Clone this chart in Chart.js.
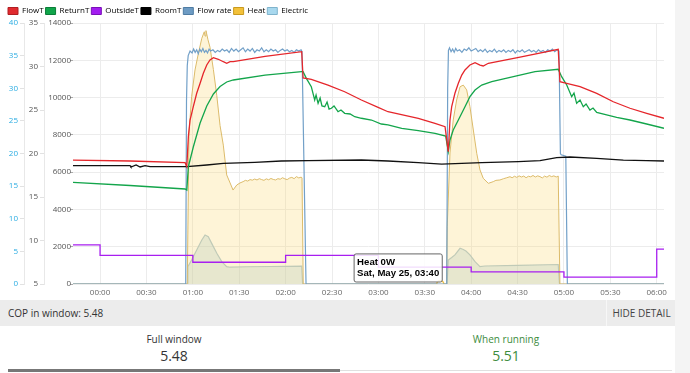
<!DOCTYPE html>
<html>
<head>
<meta charset="utf-8">
<title>Heat pump window</title>
<script src="https://cdn.jsdelivr.net/npm/chart.js@4.4.1/dist/chart.umd.min.js"></script>
<style>
    body { margin: 0; width: 690px; height: 373px; overflow: hidden; background: #f4f4f4; font-family: 'Open Sans', sans-serif; }
    #page { position: absolute; left: 0; top: 0; width: 675px; height: 373px; background: #fff; }
    #chart-box { position: absolute; left: 0; top: 0; width: 675px; height: 300px; }
    .cop-bar { position: absolute; left: 0; top: 300px; width: 675px; height: 26px; background: #ececec; color: #333; font-size: 10px; line-height: 26px; }
    .cop-bar .title { position: absolute; left: 8px; }
    .cop-bar .toggle { position: absolute; left: 606px; width: 69px; text-align: center; border-left: 1px solid #f7f7f7; color: #444; }
    .stats { position: absolute; left: 8px; top: 326px; width: 664px; height: 47px; display: flex; }
    .stat { flex: 1; position: relative; text-align: center; color: #333; }
    .stat .label { position: absolute; top: 6px; width: 100%; font-size: 10px; line-height: 14px; }
    .stat .value { position: absolute; top: 20px; width: 100%; font-size: 14px; line-height: 19px; }
    .stat .bar { position: absolute; left: 0; right: 0; top: 43px; height: 3px; background: #777; }
    .stat.running { color: #3d8c3d; }
    .stat.running .bar { top: 44px; height: 1px; background: #e0e0e0; }
</style>
</head>
<body>
<div id="page">
    <div id="chart-box"><canvas id="chart" width="675" height="300"></canvas></div>
    <div class="cop-bar">
        <span class="title" id="cop-title"></span>
        <span class="toggle">HIDE DETAIL</span>
    </div>
    <div class="stats">
        <div class="stat"><div class="label">Full window</div><div class="value" id="cop-full"></div><div class="bar"></div></div>
        <div class="stat running"><div class="label">When running</div><div class="value" id="cop-running"></div><div class="bar"></div></div>
    </div>
</div>
<script>
// time is minutes from midnight, window runs from 23:42 to 06:05
const xMin = -17.5;
const xMax = 364.7;
const xTicks = [0, 30, 60, 90, 120, 150, 180, 210, 240, 270, 300, 330, 360];
const xTickLabels = ['00:00', '00:30', '01:00', '01:30', '02:00', '02:30', '03:00', '03:30', '04:00', '04:30', '05:00', '05:30', '06:00'];
const dayLabel = 'Sat, May 25';
const hoverMinute = 220;

const copFull = 5.48;
const copRunning = 5.51;

// temperatures, degC
const flowT = [[-17.5, 19.25], [19.4, 19.14], [55, 18.94], [56.1, 18.48], [57.1, 21.93], [58.2, 23.85], [60.3, 25.38],
    [62.5, 26.92], [64.7, 28.07], [66.8, 29.22], [69, 30.17], [71.1, 30.75], [73.3, 31.01], [76.5, 30.83], [79.7, 30.55],
    [81.9, 30.37], [84.1, 30.55], [86.2, 30.55], [106.7, 31.17], [130.4, 31.7], [131.3, 28.68], [136.6, 28.53],
    [147.4, 27.87], [158.2, 27.1], [169, 26.15], [179.8, 25.31], [186.2, 24.8], [205.8, 24.05], [216.6, 23.47],
    [223.1, 23.08], [225.2, 20.21], [226.3, 23.85], [227.4, 25.38], [229.5, 26.92], [231.7, 28.07], [233.9, 29.02],
    [236, 29.6], [239.2, 30.17], [242.5, 30.44], [245.7, 30.17], [247.8, 30.06], [251.1, 30.37], [271.6, 31.09],
    [296.3, 31.98], [297.4, 28.25], [301.8, 28.07], [310.4, 27.68], [321.2, 26.92], [331.9, 25.95], [342.7, 25.2],
    [353.5, 24.62], [364.7, 24.05]];

const returnT = [[-17.5, 16.69], [19.4, 16.32], [55, 15.92], [56.1, 15.8], [57.1, 18.48], [60.3, 20.75], [64.7, 23.51],
    [69, 25.46], [73.3, 26.84], [77.6, 27.7], [81.9, 28.22], [86.2, 28.45], [106.7, 29.0], [130.4, 29.4], [131.3, 29.4],
    [133.4, 28.64], [136.6, 27.68], [138.8, 26.15], [139.7, 26.72], [141, 25.77], [142.3, 26.38], [143.5, 25.46],
    [145.3, 25.38], [146.8, 25.92], [148.1, 25.11], [149.6, 25.2], [151.3, 25.46], [153.9, 24.8], [155.8, 25.0],
    [158.2, 24.62], [161.7, 24.54], [164.7, 24.23], [169, 24.05], [175.5, 23.85], [181.9, 23.39], [186.2, 23.28],
    [195.1, 22.9], [205.8, 22.62], [216.6, 22.32], [223.5, 22.01], [225.2, 20.21], [226.3, 21.55], [228.4, 22.7],
    [231.7, 23.85], [236, 25.38], [239.2, 26.53], [242.5, 27.3], [246.8, 27.87], [253.3, 28.25], [281.3, 29.4],
    [296.3, 29.68], [298.5, 28.83], [301.8, 27.87], [305, 26.53], [306.5, 26.95], [308.2, 25.77], [310.4, 26.15],
    [312.5, 25.38], [314.3, 25.69], [316.8, 25.0], [318.8, 25.23], [321.2, 24.72], [327.6, 24.43], [334.1, 24.16],
    [342.7, 23.85], [353.5, 23.39], [364.7, 22.9]];

// hourly outside readings
const outsideT = [[-17.5, 9.5], [0, 8.3], [60, 7.5], [120, 8.3], [180, 6.95], [240, 6.4], [300, 5.8], [360, 9.0], [364.7, 9.0]];

const roomT = [[-17.5, 18.6], [19.4, 18.6], [20, 18.45], [23.3, 18.68], [25.9, 18.45], [29.1, 18.6], [32.3, 18.49],
    [56.1, 18.49], [69, 18.68], [79.7, 18.87], [100, 18.99], [117.2, 19.14], [134.5, 19.17], [169, 19.25],
    [186.2, 19.14], [205.8, 18.94], [220.9, 18.79], [246.8, 18.94], [270.5, 19.06], [284.5, 19.17], [295.3, 19.52],
    [303.9, 19.6], [321.2, 19.45], [338.4, 19.25], [353.5, 19.17], [364.7, 19.14]];

// flow rate, l/min
const flowRate = [[-17.5, 0], [55.4, 0], [55.9, 28], [56.4, 33.5], [57, 35.0], [58.2, 35.7], [59.5, 35.4], [60.5, 36.0],
    [61.5, 35.5], [62.5, 35.9], [63.5, 35.3], [64.5, 36.0], [65.5, 35.6], [66.5, 36.1], [67.5, 35.5], [68.5, 35.8],
    [69.5, 35.4], [70.5, 36.0], [71.5, 35.7], [73, 35.9], [74.5, 35.5], [76, 35.8], [77.5, 35.6], [79, 36.0],
    [80.5, 35.7], [82, 35.9], [83.5, 35.5], [85, 36.1], [86.5, 35.7], [88, 36.0], [89.5, 35.6], [91, 35.9],
    [92.5, 36.2], [94, 35.6], [95.5, 36.0], [97, 35.7], [98.5, 36.1], [100, 35.5], [101.5, 35.9], [103, 35.7],
    [104.5, 36.2], [106, 35.6], [107.5, 35.9], [109, 35.6], [110.5, 36.0], [112, 35.7], [113.5, 35.9], [115, 35.5],
    [116.5, 35.8], [118, 36.0], [119.5, 35.7], [121, 35.9], [122.5, 35.6], [124, 35.8], [125.5, 35.5], [127, 35.9],
    [128.5, 35.7], [130, 35.9], [130.6, 35.6], [133.2, 0], [224.2, 0], [224.8, 30], [225.3, 35.8], [226, 36.2],
    [227, 35.6], [228, 36.0], [229, 35.5], [230, 36.1], [231, 35.7], [232.5, 35.9], [234, 35.5], [235.5, 36.0],
    [237, 35.8], [238.5, 36.2], [240, 35.7], [241.5, 35.9], [243, 36.1], [244.5, 35.6], [246, 35.9], [247.5, 35.6],
    [249, 36.0], [250.5, 35.5], [252, 35.8], [253.5, 35.6], [255, 36.0], [256.5, 35.5], [258, 35.8], [259.5, 35.6],
    [261, 35.9], [262.5, 35.5], [264, 35.8], [265.5, 35.6], [267, 35.9], [268.5, 35.4], [270, 35.8], [271.5, 35.6],
    [273, 35.9], [274.5, 35.5], [276, 35.7], [277.5, 35.9], [279, 35.6], [280.5, 35.8], [282, 35.5], [283.5, 35.9],
    [285, 35.6], [286.5, 35.8], [288, 35.5], [289.5, 35.9], [291, 35.7], [292.5, 36.0], [294, 35.6], [295.5, 35.9],
    [296.8, 35.7], [297.7, 20.0], [298.2, 19.8], [301.2, 19.6], [302.2, 0], [364.7, 0]];

// heat output, W
const heat = [[-17.5, 0], [56.4, 0], [57.5, 8080], [59.2, 10050], [61.4, 11480], [63.6, 12375], [65.8, 13180],
    [67.4, 13530], [67.9, 13300], [68.5, 13590], [69.8, 13100], [71.1, 12700], [73.3, 11500], [75.5, 10100],
    [77.6, 8500], [79.7, 7450], [81.9, 5850], [84.1, 5420], [86, 5040], [88.4, 5310], [90.5, 5420], [92.5, 5490],
    [94, 5560], [95.5, 5520], [97, 5600], [98.5, 5570], [100, 5630], [101.5, 5580], [103, 5650], [104.5, 5600],
    [106, 5560], [107.5, 5640], [109, 5590], [110.5, 5660], [112, 5610], [113.5, 5580], [115, 5650], [116.5, 5620],
    [118, 5700], [119.5, 5640], [121, 5600], [122.5, 5680], [124, 5720], [125.5, 5650], [127, 5760], [128.5, 5690],
    [130, 5730], [130.6, 5700], [131.4, 0], [220, 0], [224.1, 0], [224.5, 3070], [226.3, 7030], [228.4, 8800],
    [230.6, 9870], [232.8, 10580], [234.9, 10670], [237.1, 10410], [239.2, 9510], [241.4, 8260], [243.6, 7010],
    [245.7, 6120], [247.8, 5670], [251.1, 5400], [254.3, 5490], [256, 5560], [258.6, 5580], [261, 5650], [263, 5700],
    [265.1, 5755], [266.5, 5700], [268, 5780], [269.5, 5720], [271, 5800], [272.5, 5740], [274, 5790], [275.5, 5700],
    [277, 5780], [278.5, 5750], [280, 5820], [281.5, 5740], [283, 5800], [284.5, 5760], [286, 5690], [287.5, 5790],
    [289, 5730], [290.5, 5820], [292, 5760], [293.5, 5800], [295, 5740], [296.3, 5790], [297.4, 0], [364.7, 0]];

// electric input, W
const electric = [[-17.5, 0], [56.4, 0], [56.8, 930], [59.2, 1290], [62.5, 1820], [65.8, 2360], [67.9, 2630],
    [70, 2540], [72.2, 2180], [75.5, 1650], [78.7, 1200], [81.9, 930], [84.1, 900], [95, 925], [110, 940],
    [120, 945], [130.4, 960], [131, 0], [224.4, 0], [225.2, 1290], [227.4, 1420], [229.5, 1560], [232.8, 1915],
    [234.9, 1850], [236.6, 1770], [239.2, 1560], [242.5, 1200], [245.7, 930], [248.9, 965], [270, 1000],
    [296.3, 1045], [297.1, 0], [364.7, 0]];

const legendFill = ['#e02a2e', '#10a54a', '#a21cf0', '#000000', '#6d9bc3', '#f3c13a', '#a8d8ee'];
const legendStroke = ['#b01e22', '#0b7d38', '#7a10b8', '#000000', '#4f7ca3', '#c99a1e', '#7fb3cc'];

const font = "'Open Sans', sans-serif";
Chart.defaults.font.family = font;

const toPoints = pairs => pairs.map(([x, y]) => ({ x, y }));

function formatTime(minutes) {
    const m = Math.round((minutes + 1440) % 1440);
    return String(Math.floor(m / 60)).padStart(2, '0') + ':' + String(m % 60).padStart(2, '0');
}

Chart.Tooltip.positioners.atPoint = function (items) {
    if (!items.length) return false;
    return { x: items[0].element.x, y: items[0].element.y };
};

// legend sits tighter to the plot than chart.js allows by default
const legendFit = {
    id: 'legendFit',
    beforeInit(chart) {
        const fit = chart.legend.fit;
        chart.legend.fit = function () {
            fit.call(this);
            this.height = 18;
        };
    },
};

const lineDataset = (label, data, color, axis, width) => ({
    label, data: toPoints(data), borderColor: color, backgroundColor: color,
    borderWidth: width, yAxisID: axis, fill: false,
});

const chart = new Chart(document.getElementById('chart'), {
    type: 'line',
    data: {
        datasets: [
            lineDataset('FlowT', flowT, '#e5262b', 'yTemp', 1.3),
            lineDataset('ReturnT', returnT, '#13a54b', 'yTemp', 1.3),
            { ...lineDataset('OutsideT', outsideT, '#a81ff0', 'yTemp', 1.3), stepped: 'before' },
            lineDataset('RoomT', roomT, '#111111', 'yTemp', 1.3),
            lineDataset('Flow rate', flowRate, '#72a0c8', 'yFlow', 1.2),
            {
                ...lineDataset('Heat', heat, '#dcbb6a', 'yPower', 1),
                backgroundColor: 'rgba(250, 215, 110, 0.28)',
                fill: 'origin',
                pointHoverRadius: 3.5,
                pointHoverBorderWidth: 1.5,
                pointHoverBorderColor: '#f0c247',
                pointHoverBackgroundColor: 'rgba(255, 250, 235, 0.9)',
            },
            {
                ...lineDataset('Electric', electric, '#a9c5d3', 'yPower', 1.2),
                backgroundColor: 'rgba(150, 195, 215, 0.3)',
                fill: 'origin',
            },
        ],
    },
    options: {
        responsive: false,
        animation: false,
        elements: { point: { radius: 0, hoverRadius: 0 }, line: { tension: 0 } },
        layout: { padding: { left: 6, top: 5, right: 11, bottom: 0 } },
        plugins: {
            legend: {
                position: 'top',
                align: 'start',
                labels: {
                    boxWidth: 10,
                    boxHeight: 7,
                    padding: 2,
                    color: '#8a8a8a',
                    font: { size: 8 },
                    generateLabels: c => c.data.datasets.map((ds, i) => ({
                        text: ds.label,
                        fillStyle: legendFill[i],
                        strokeStyle: legendStroke[i],
                        lineWidth: 1,
                        hidden: false,
                        datasetIndex: i,
                    })),
                },
            },
            tooltip: {
                position: 'atPoint',
                xAlign: 'right',
                yAlign: 'bottom',
                caretSize: 0,
                caretPadding: 2,
                cornerRadius: 2,
                backgroundColor: 'rgba(255, 255, 255, 0.85)',
                borderColor: '#666',
                borderWidth: 1,
                bodyColor: '#000',
                bodyFont: { family: "'Liberation Sans', Arial, sans-serif", size: 9.6, weight: 'bold', lineHeight: 1.15 },
                bodySpacing: 0,
                padding: 3,
                displayColors: false,
                callbacks: {
                    title: () => '',
                    label: ctx => [`${ctx.dataset.label} ${ctx.parsed.y}W`, `${dayLabel}, ${formatTime(ctx.parsed.x)}`],
                },
            },
        },
        scales: {
            x: {
                type: 'linear',
                min: xMin,
                max: xMax,
                afterBuildTicks: scale => { scale.ticks = xTicks.map(value => ({ value })); },
                afterFit: scale => { scale.height = 16; },
                ticks: {
                    color: '#666', font: { size: 8 }, padding: 4, maxRotation: 0, autoSkip: false,
                    callback: (value, index) => xTickLabels[index],
                },
                grid: { color: '#ececec', drawTicks: false },
                border: { display: false },
            },
            yFlow: {
                position: 'left',
                weight: 3,
                min: 0,
                max: 40,
                afterFit: scale => { scale.width = 18; },
                ticks: { stepSize: 5, color: '#2aace2', font: { size: 8 }, padding: 2 },
                grid: { drawOnChartArea: false, tickLength: 4, color: '#e2e2e2' },
                border: { color: '#e8e8e8' },
            },
            yTemp: {
                position: 'left',
                weight: 2,
                min: 5,
                max: 35,
                afterFit: scale => { scale.width = 20; },
                ticks: { stepSize: 5, color: '#555', font: { size: 8 }, padding: 2 },
                grid: { drawOnChartArea: false, tickLength: 4, color: '#e2e2e2' },
                border: { color: '#e8e8e8' },
            },
            yPower: {
                position: 'left',
                weight: 1,
                min: 0,
                max: 14000,
                afterFit: scale => { scale.width = 29; },
                ticks: { stepSize: 2000, color: '#555', font: { size: 8 }, padding: -1, callback: v => String(v) },
                grid: { color: '#ececec', tickLength: 3, tickColor: '#aaa' },
                border: { display: false },
            },
        },
    },
    plugins: [legendFit],
});

// show the hover readout the screenshot was taken with
const heatIndex = chart.data.datasets.findIndex(ds => ds.label === 'Heat');
const hoverIndex = heat.findIndex(p => p[0] === hoverMinute);
chart.setActiveElements([{ datasetIndex: heatIndex, index: hoverIndex }]);
chart.tooltip.setActiveElements([{ datasetIndex: heatIndex, index: hoverIndex }], { x: 0, y: 0 });
chart.update();

document.getElementById('cop-title').textContent = `COP in window: ${copFull.toFixed(2)}`;
document.getElementById('cop-full').textContent = copFull.toFixed(2);
document.getElementById('cop-running').textContent = copRunning.toFixed(2);
</script>
</body>
</html>
